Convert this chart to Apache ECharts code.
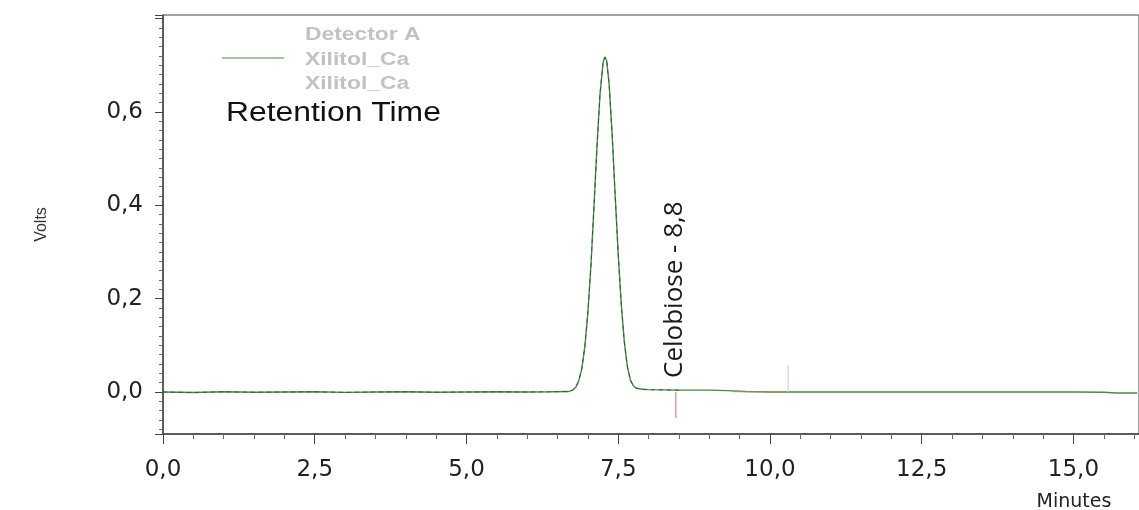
<!DOCTYPE html>
<html>
<head>
<meta charset="utf-8">
<script src="https://cdn.jsdelivr.net/npm/echarts@6/dist/echarts.min.js"></script>
<style>
  html, body { margin: 0; padding: 0; background: #fff; }
  #chromatogram { width: 1139px; height: 510px; }
</style>
</head>
<body>
<div id="chromatogram"></div>
<script>
// detector A trace, minutes vs volts
var traceMinutes = [0, 0.5, 1.0, 1.5, 2.0, 2.5, 3.0, 3.5, 4.0, 4.5, 5.0, 5.5, 6.0, 6.4, 6.68,
  6.75, 6.80, 6.85, 6.90, 6.95, 7.00, 7.05, 7.10, 7.15, 7.20, 7.25, 7.28, 7.31, 7.35,
  7.40, 7.45, 7.50, 7.55, 7.60, 7.65, 7.70, 7.75, 7.80, 7.90, 8.0, 8.5, 9.0, 9.3, 9.6,
  10.0, 10.3, 11.0, 12.0, 13.0, 14.0, 15.0, 15.5, 15.7, 16.05];
var traceVolts = [0.000, -0.001, 0.0005, -0.0005, 0.000, 0.0005, -0.0008, 0.000, 0.0005, -0.0005, 0.000, 0.0004, 0.000, 0.0005, 0.001,
  0.004, 0.010, 0.024, 0.050, 0.097, 0.170, 0.270, 0.396, 0.526, 0.638, 0.706, 0.718, 0.710, 0.660,
  0.552, 0.420, 0.295, 0.188, 0.108, 0.055, 0.026, 0.013, 0.008, 0.006, 0.005, 0.004, 0.004, 0.003, 0.001,
  0.000, 0.000, 0.000, 0.000, 0.000, 0.000, 0.000, -0.0005, -0.002, -0.002];

// second overlay (dashed) only covers the first part of the run
var overlayEnd = 8.5;

// integration event marks
var startMarkMinutes = [8.45, 8.45];
var startMarkVolts = [0, -0.056];
var endMarkMinutes = [10.3, 10.3];
var endMarkVolts = [0, 0.058];
var baselineMinutes = [9.4, 10.3];
var baselineVolts = [0.0008, 0.0];

var xTicks = 2.5;
var yTicks = 0.2;
var yLabelTop = 0.6;

var labelFont = 'DejaVu Sans, Verdana, sans-serif';
var plainFont = 'Liberation Sans, Arial, sans-serif';

function pairs(xs, ys) {
  var out = [];
  for (var i = 0; i < xs.length; i++) out.push([xs[i], ys[i]]);
  return out;
}

function commaLabel(step, top) {
  return function (v) {
    var k = v / step;
    if (Math.abs(k - Math.round(k)) > 1e-6) return '';
    if (top != null && v > top + 1e-6) return '';
    return v.toFixed(1).replace('.', ',');
  };
}

var mainData = pairs(traceMinutes, traceVolts);
var overlayData = mainData.filter(function (p) { return p[0] <= overlayEnd; });

var chart = echarts.init(document.getElementById('chromatogram'));

var option = {
  animation: false,
  backgroundColor: '#fff',
  grid: {
    left: 163, top: 15, right: -2, bottom: 76,
    show: true, borderColor: '#444', borderWidth: 1
  },
  xAxis: {
    type: 'value',
    min: 0,
    max: 16.08,
    interval: xTicks,
    axisLine: { show: true, onZero: false, lineStyle: { color: '#444', width: 1.5 } },
    axisTick: { show: true, length: 10, lineStyle: { color: '#444' } },
    minorTick: { show: true, splitNumber: 5, length: 5, lineStyle: { color: '#666' } },
    splitLine: { show: false },
    axisLabel: {
      margin: 25, fontSize: 23, color: '#222', fontFamily: labelFont,
      formatter: commaLabel(xTicks), showMaxLabel: false
    }
  },
  yAxis: {
    type: 'value',
    min: -0.09,
    max: 0.808,
    splitNumber: 4,
    name: 'Volts',
    nameLocation: 'middle',
    nameRotate: 90,
    nameGap: 113,
    nameTextStyle: { fontSize: 16, color: '#333', fontFamily: plainFont },
    axisLine: { show: true, lineStyle: { color: '#444', width: 1.5 } },
    axisTick: { show: true, length: 8, lineStyle: { color: '#444' } },
    minorTick: { show: true, splitNumber: 10, length: 4, lineStyle: { color: '#666' } },
    splitLine: { show: false },
    axisLabel: {
      margin: 20, fontSize: 23, color: '#222', fontFamily: labelFont,
      formatter: commaLabel(yTicks, yLabelTop), showMinLabel: false, showMaxLabel: false
    }
  },
  series: [
    {
      name: 'Xilitol_Ca',
      type: 'line',
      data: mainData,
      showSymbol: false,
      lineStyle: { color: '#3f8f3f', width: 1.4 },
      z: 3
    },
    {
      name: 'Xilitol_Ca dashed',
      type: 'line',
      data: overlayData,
      showSymbol: false,
      lineStyle: { color: '#4a4a4a', width: 1, type: [4, 4] },
      z: 4
    },
    {
      name: 'baseline',
      type: 'line',
      data: pairs(baselineMinutes, baselineVolts),
      showSymbol: false,
      lineStyle: { color: '#d9776f', width: 1.2, opacity: 0.7 },
      z: 5
    },
    {
      name: 'start',
      type: 'line',
      data: pairs(startMarkMinutes, startMarkVolts),
      showSymbol: false,
      lineStyle: { color: '#c9737a', width: 1 },
      z: 5
    },
    {
      name: 'end',
      type: 'line',
      data: pairs(endMarkMinutes, endMarkVolts),
      showSymbol: false,
      lineStyle: { color: '#c8c8c8', width: 1 },
      z: 5
    }
  ],
  graphic: [
    { type: 'line', shape: { x1: 222, y1: 58, x2: 284, y2: 58 }, style: { stroke: '#3f8f3f', lineWidth: 1 } },
    { type: 'text', x: 305, y: 35, scaleX: 1.27, style: { text: 'Detector A', fill: '#c2c2c2', font: 'bold 18px ' + plainFont, textVerticalAlign: 'middle' } },
    { type: 'text', x: 305, y: 60, scaleX: 1.27, style: { text: 'Xilitol_Ca', fill: '#c2c2c2', font: 'bold 18px ' + plainFont, textVerticalAlign: 'middle' } },
    { type: 'text', x: 305, y: 84, scaleX: 1.27, style: { text: 'Xilitol_Ca', fill: '#c2c2c2', font: 'bold 18px ' + plainFont, textVerticalAlign: 'middle' } },
    { type: 'text', x: 226, y: 114, scaleX: 1.18, style: { text: 'Retention Time', fill: '#111', font: '27px ' + plainFont, textVerticalAlign: 'middle' } },
    { type: 'text', x: 675, y: 378, rotation: Math.PI / 2, style: { text: 'Celobiose - 8,8', fill: '#1a1a1a', font: '26px Open Sans, sans-serif', textAlign: 'left', textVerticalAlign: 'middle' } },
    { type: 'text', x: 1074, y: 502, style: { text: 'Minutes', fill: '#222', font: '19px ' + labelFont, textAlign: 'center', textVerticalAlign: 'middle' } }
  ]
};

chart.setOption(option);
</script>
</body>
</html>
